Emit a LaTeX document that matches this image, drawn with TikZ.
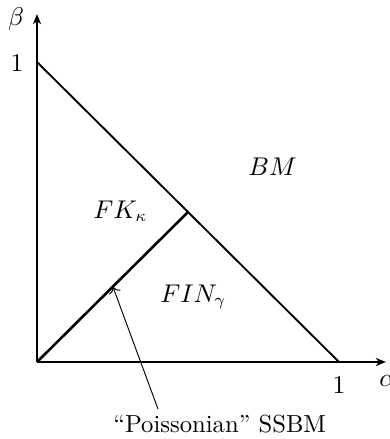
\documentclass[tikz,border=0pt]{standalone}
\usetikzlibrary{arrows.meta}
\begin{document}
\begin{tikzpicture}[x=0.4274pt,y=-0.4274pt,
  every node/.style={font=\fontsize{10.54}{12.6}\selectfont},
  axis/.style={line width=1.1pt,-{Stealth[length=4.3pt,width=3.4pt,inset=1.2pt]}},
  region/.style={line width=0.8pt},
  bound/.style={line width=1.1pt},
  pointer/.style={line width=0.4pt,->},
  lbl/.style={inner sep=0pt,anchor=base west}]
\useasboundingbox (0,0) rectangle (389,439);
\coordinate (O) at (37,362);
\coordinate (Ytop) at (37,14);
\coordinate (Xend) at (386,362);
\coordinate (A) at (37,62);
\coordinate (B) at (339,362);
\coordinate (M) at (188,212);
\coordinate (P) at (113,287);
\draw[axis] (O) -- (Ytop);
\draw[axis] (O) -- (Xend);
\draw[region] (A) -- (B);
\draw[bound] (O) -- (M);
\node[inner sep=0pt] (beta) at (16,19) {$\beta$};
\node[inner sep=0pt] (one1) at (17,63) {$1$};
\node[inner sep=0pt] (one2) at (339,385) {$1$};
\node[inner sep=0pt,anchor=west] (alpha) at (379,381) {$\alpha$};
\node[lbl] (BM) at (248,175) {$BM$};
\node[lbl] (FK) at (93,218) {$FK_\kappa$};
\node[lbl] (FIN) at (160,302) {$FIN_\gamma$};
\node[lbl] (poi) at (113,432) {``Poissonian'' SSBM};
\coordinate (tail) at (158,409);
\draw[pointer] (tail) -- (P);
\end{tikzpicture}
\end{document}
